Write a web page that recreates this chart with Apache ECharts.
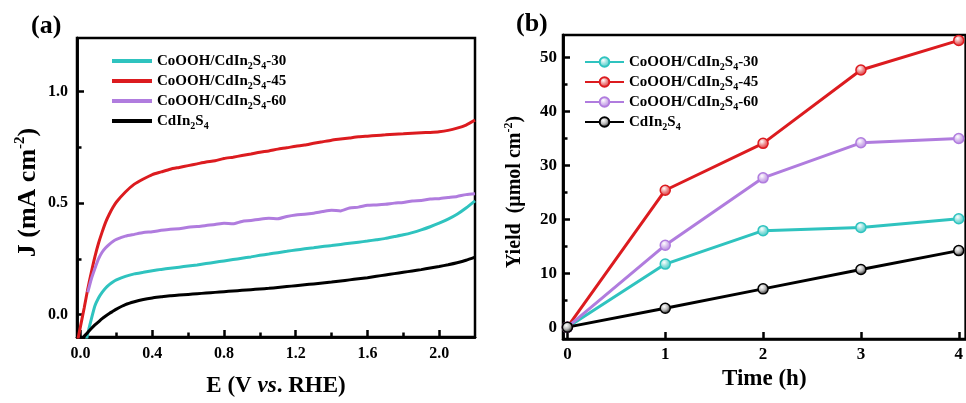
<!DOCTYPE html>
<html>
<head>
<meta charset="utf-8">
<script src="https://cdn.jsdelivr.net/npm/echarts@6/dist/echarts.min.js"></script>
<style>
  html, body { margin: 0; padding: 0; background: #fff; }
  #main { width: 966px; height: 403px; }
</style>
</head>
<body>
<div id="main"></div>
<script>
// (a) LSV curves, potential in V vs RHE
const potential = [-0.02, 0, 0.02, 0.04, 0.06, 0.08, 0.10, 0.12, 0.14, 0.16, 0.18, 0.20,
  0.25, 0.30, 0.35, 0.40, 0.45, 0.50, 0.55, 0.60, 0.65, 0.70, 0.75, 0.80, 0.85, 0.90, 0.95,
  1.00, 1.05, 1.10, 1.15, 1.20, 1.25, 1.30, 1.35, 1.40, 1.45, 1.50, 1.55, 1.60, 1.65, 1.70,
  1.75, 1.80, 1.85, 1.90, 1.95, 2.00, 2.05, 2.10, 2.15, 2.20];
const j30 = [null, null, -0.16, -0.085, -0.02, 0.04, 0.075, 0.10, 0.12, 0.135, 0.147, 0.156,
  0.172, 0.183, 0.19, 0.197, 0.203, 0.208, 0.213, 0.218, 0.223, 0.229, 0.235, 0.241, 0.247, 0.253, 0.259,
  0.266, 0.272, 0.278, 0.284, 0.29, 0.295, 0.30, 0.306, 0.31, 0.315, 0.32, 0.325, 0.33, 0.336, 0.342,
  0.35, 0.358, 0.368, 0.38, 0.394, 0.41, 0.428, 0.45, 0.478, 0.51];
const j45 = [-0.13, -0.05, 0.03, 0.115, 0.19, 0.26, 0.32, 0.37, 0.415, 0.45, 0.48, 0.505,
  0.55, 0.585, 0.608, 0.628, 0.64, 0.652, 0.66, 0.668, 0.676, 0.684, 0.69, 0.70, 0.706, 0.713, 0.72,
  0.728, 0.734, 0.742, 0.748, 0.755, 0.76, 0.768, 0.775, 0.782, 0.787, 0.792, 0.797, 0.80, 0.803, 0.806,
  0.809, 0.811, 0.813, 0.815, 0.817, 0.82, 0.826, 0.836, 0.85, 0.872];
const j60 = [null, null, null, 0.10, 0.16, 0.207, 0.25, 0.28, 0.30, 0.315, 0.328, 0.337,
  0.352, 0.36, 0.368, 0.372, 0.378, 0.383, 0.385, 0.392, 0.395, 0.40, 0.404, 0.41, 0.407, 0.418, 0.422,
  0.428, 0.432, 0.43, 0.44, 0.447, 0.45, 0.455, 0.462, 0.468, 0.465, 0.478, 0.482, 0.49, 0.492, 0.495,
  0.50, 0.503, 0.51, 0.512, 0.518, 0.52, 0.525, 0.53, 0.538, 0.542];
const jBare = [null, -0.13, -0.097, -0.08, -0.062, -0.046, -0.032, -0.018, -0.006, 0.005, 0.015, 0.025,
  0.045, 0.058, 0.068, 0.075, 0.08, 0.085, 0.088, 0.091, 0.094, 0.097, 0.10, 0.103, 0.106, 0.109, 0.112,
  0.115, 0.118, 0.122, 0.126, 0.13, 0.134, 0.138, 0.142, 0.146, 0.151, 0.156, 0.161, 0.166, 0.172, 0.178,
  0.184, 0.19, 0.196, 0.202, 0.209, 0.216, 0.224, 0.233, 0.244, 0.258];

// (b) yield vs time
const hours = [0, 1, 2, 3, 4];
const y30 = [0, 11.7, 17.9, 18.5, 20.1];
const y45 = [0, 25.4, 34.1, 47.7, 53.2];
const y60 = [0, 15.2, 27.7, 34.2, 35.0];
const yBare = [0, 3.5, 7.1, 10.7, 14.2];

// tick positions
const eMajor = [0, 0.4, 0.8, 1.2, 1.6, 2.0];
const eMinor = [0.2, 0.6, 1.0, 1.4, 1.8];
const jMajor = [0, 0.5, 1.0];
const jMinor = [0.25, 0.75];
const tMajor = [0, 1, 2, 3, 4];
const yMajor = [0, 10, 20, 30, 40, 50];
const yMinor = [5, 15, 25, 35, 45];

const names = ['CoOOH/CdIn2S4-30', 'CoOOH/CdIn2S4-45', 'CoOOH/CdIn2S4-60', 'CdIn2S4'];
const colors = ['#2FC3BF', '#DC1B1F', '#B07CDE', '#000000'];

const serif = "'Liberation Serif', 'Times New Roman', serif";

function pairs(xs, ys) {
  const out = [];
  xs.forEach((x, i) => { if (ys[i] !== null) out.push([x, ys[i]]); });
  return out;
}

function sphere(c) {
  return {
    type: 'radial', x: 0.4, y: 0.35, r: 0.7,
    colorStops: [
      { offset: 0, color: '#ffffff' },
      { offset: 0.45, color: c === '#000000' ? '#bbbbbb' : echarts.color.lift(c, 0.5) },
      { offset: 1, color: c }
    ]
  };
}

const legendText = {
  fontFamily: serif, fontWeight: 'bold', fontSize: 15, color: '#000', lineHeight: 20,
  rich: {
    sub: { fontFamily: serif, fontWeight: 'bold', fontSize: 10, lineHeight: 10, verticalAlign: 'bottom', color: '#000' }
  }
};
function legendFmt(n) {
  return n.trim().replace('In2S4', 'In{sub|2}S{sub|4}');
}

const tickLabel = (size) => ({ fontFamily: serif, fontWeight: 'bold', fontSize: size, color: '#000' });

function valueAxis(o) {
  return Object.assign({
    type: 'value',
    splitLine: { show: false },
    axisLine: { show: true, onZero: false, lineStyle: { color: '#000', width: 2.5 } }
  }, o);
}
function ticks(len, vals) {
  return { show: true, inside: true, length: len, lineStyle: { width: 2.5, color: '#000' }, customValues: vals };
}

let myChart = echarts.init(document.getElementById('main'));

let option = {
  backgroundColor: '#fff',
  animation: false,
  title: [
    { text: '(a)', left: 26, top: 8, textStyle: { fontFamily: serif, fontWeight: 'bold', fontSize: 26, color: '#000' } },
    { text: '(b)', left: 511, top: 6, textStyle: { fontFamily: serif, fontWeight: 'bold', fontSize: 26, color: '#000' } }
  ],
  grid: [
    { left: 77, top: 38, width: 398, height: 305, show: true, borderColor: '#000', borderWidth: 2.5, backgroundColor: 'transparent' },
    { left: 563, top: 35, width: 406, height: 304, show: true, borderColor: '#000', borderWidth: 2.5, backgroundColor: 'transparent' }
  ],
  legend: [
    {
      data: names.slice(),
      left: 107, top: 46, orient: 'vertical', icon: 'rect', itemWidth: 40, itemHeight: 4, itemGap: 0,
      textStyle: legendText, formatter: legendFmt, selectedMode: false
    },
    {
      data: names.map(n => n + ' '),
      left: 579, top: 47, orient: 'vertical', itemWidth: 39, itemHeight: 12, itemGap: 0,
      textStyle: legendText, formatter: legendFmt, selectedMode: false
    }
  ],
  xAxis: [
    valueAxis({
      gridIndex: 0, min: -0.02, max: 2.2, position: 'bottom',
      axisTick: ticks(7, eMajor),
      axisLabel: Object.assign(tickLabel(16), { margin: 9, customValues: eMajor, formatter: v => v.toFixed(1) }),
      name: 'E (V {it|vs}. RHE)', nameLocation: 'middle', nameGap: 38,
      nameTextStyle: { fontFamily: serif, fontWeight: 'bold', fontSize: 23, color: '#000',
        rich: { it: { fontFamily: serif, fontWeight: 'bold', fontStyle: 'italic', fontSize: 23, color: '#000' } } }
    }),
    valueAxis({
      gridIndex: 0, min: -0.02, max: 2.2, position: 'bottom',
      axisTick: ticks(4.5, eMinor),
      axisLabel: { show: false }
    }),
    valueAxis({
      gridIndex: 1, min: -0.045, max: 4.07, position: 'bottom',
      axisTick: ticks(7, tMajor),
      axisLabel: Object.assign(tickLabel(17), { margin: 7, customValues: tMajor }),
      name: 'Time (h)', nameLocation: 'middle', nameGap: 27,
      nameTextStyle: { fontFamily: serif, fontWeight: 'bold', fontSize: 23, color: '#000' }
    })
  ],
  yAxis: [
    valueAxis({
      gridIndex: 0, min: -0.1, max: 1.24, position: 'left',
      axisTick: ticks(7, jMajor),
      axisLabel: Object.assign(tickLabel(16), { margin: 9, customValues: jMajor, formatter: v => v.toFixed(1) }),
      name: 'J (mA cm{sup|-2})', nameLocation: 'middle', nameGap: 34,
      nameTextStyle: { fontFamily: serif, fontWeight: 'bold', fontSize: 26, color: '#000', lineHeight: 30, padding: [0, 10, 0, 0],
        rich: { sup: { fontFamily: serif, fontWeight: 'bold', fontSize: 15, lineHeight: 15, verticalAlign: 'top', color: '#000' } } }
    }),
    valueAxis({
      gridIndex: 0, min: -0.1, max: 1.24, position: 'left',
      axisTick: ticks(4.5, jMinor),
      axisLabel: { show: false }
    }),
    valueAxis({
      gridIndex: 1, min: -2.2, max: 54.2, position: 'left',
      axisTick: ticks(7, yMajor),
      axisLabel: Object.assign(tickLabel(17), { margin: 6, customValues: yMajor }),
      name: 'Yield  (\u03bcmol cm{sup|-2})', nameLocation: 'middle', nameGap: 36,
      nameTextStyle: { fontFamily: serif, fontWeight: 'bold', fontSize: 20, color: '#000', lineHeight: 24, padding: [0, 10, 0, 0],
        rich: { sup: { fontFamily: serif, fontWeight: 'bold', fontSize: 12, lineHeight: 12, verticalAlign: 'top', color: '#000' } } }
    }),
    valueAxis({
      gridIndex: 1, min: -2.2, max: 54.2, position: 'left',
      axisTick: ticks(4.5, yMinor),
      axisLabel: { show: false }
    })
  ],
  series: []
};

const lsv = [j30, j45, j60, jBare];
lsv.forEach((ys, i) => {
  option.series.push({
    name: names[i], type: 'line', xAxisIndex: 0, yAxisIndex: 0,
    data: pairs(potential, ys), symbol: 'none', smooth: 0.2,
    lineStyle: { width: 3, color: colors[i] }, itemStyle: { color: colors[i] }
  });
});

const yields = [y30, y45, y60, yBare];
yields.forEach((ys, i) => {
  option.series.push({
    name: names[i] + ' ', type: 'line', xAxisIndex: 2, yAxisIndex: 2,
    data: pairs(hours, ys), symbol: 'circle', symbolSize: 10, showSymbol: true,
    lineStyle: { width: 3, color: colors[i] },
    itemStyle: { color: sphere(colors[i]), borderColor: colors[i], borderWidth: 1.5 },
    clip: false
  });
});

myChart.setOption(option);
</script>
</body>
</html>
